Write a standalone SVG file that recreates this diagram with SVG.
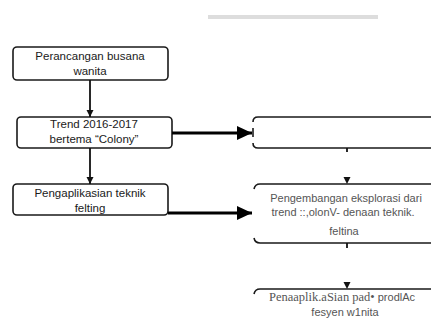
<svg xmlns="http://www.w3.org/2000/svg" width="431" height="322" viewBox="0 0 431 322">
<defs>
<style>
.box{fill:#fff;stroke:#1a1a1a;stroke-width:1.6}
.edge{fill:none;stroke:#1a1a1a;stroke-width:1.6}
.t{font-family:"Liberation Sans",Arial,sans-serif;font-size:11.5px;fill:#1a1a1a;text-anchor:middle}
.g{font-family:"Liberation Sans",Arial,sans-serif;font-size:11px;fill:#555;text-anchor:middle}
.ln{stroke:#111;stroke-width:1.8;fill:none}
.thick{stroke:#000;stroke-width:3;fill:none}
</style>
<marker id="sm" markerUnits="userSpaceOnUse" markerWidth="8" markerHeight="8" refX="7" refY="4" orient="auto"><path d="M0,0.5 L7,4 L0,7.5 Z" fill="#111"/></marker>
<marker id="big" markerUnits="userSpaceOnUse" markerWidth="16" markerHeight="16" refX="15" refY="8" orient="auto"><path d="M0,1 L15,8 L0,15 Z" fill="#000"/></marker>
</defs>
<rect x="208" y="15" width="170" height="4" fill="#ddd"/>
<g id="n1"><rect class="box" x="13" y="47" width="155" height="33" rx="4"/><text class="t" x="90" y="60">Perancangan busana</text><text class="t" x="90" y="75">wanita</text></g>
<g id="n2"><rect class="box" x="17" y="117" width="155" height="31" rx="4"/><text class="t" x="94" y="128">Trend 2016-2017</text><text class="t" x="94" y="143">bertema “Colony”</text></g>
<g id="n3"><rect class="box" x="13" y="184" width="155" height="31" rx="4"/><text class="t" x="90" y="197">Pengaplikasian teknik</text><text class="t" x="90" y="212">felting</text></g>
<g id="n4"><path class="edge" d="M431 117 H258 Q253 117 253 122"/><path class="edge" d="M253 143 Q253 148 258 148 H431"/><path class="edge" d="M253 128 V137"/></g>
<g id="n5"><path class="edge" d="M431 184 H260 Q255 184 254 189"/><path class="edge" d="M254 238 Q255 243 260 243 H431"/><text class="g" x="346" y="202">Pengembangan eksplorasi dari</text><text class="g" x="343" y="216">trend ::,olonV- denaan teknik.</text><text class="g" x="344" y="235">feltina</text></g>
<g id="n6"><path class="edge" d="M431 289 H260 Q255 289 254 294"/><text class="g" x="342" y="301"><tspan font-family="Liberation Serif,serif" font-size="12.5px">Penaaplik.aSian pad•</tspan> prodlAc</text><text class="g" x="345" y="316">fesyen w1nita</text></g>
<g id="connectors">
<line class="ln" x1="90" y1="80" x2="90" y2="117" marker-end="url(#sm)"/>
<line class="ln" x1="90" y1="148" x2="90" y2="184" marker-end="url(#sm)"/>
<line class="thick" x1="172" y1="133" x2="252" y2="133" marker-end="url(#big)"/>
<line class="thick" x1="168" y1="213" x2="252" y2="213" marker-end="url(#big)"/>
<line class="ln" x1="347" y1="148" x2="347" y2="184" stroke-dasharray="4 100" marker-end="url(#sm)"/>
<line class="ln" x1="347" y1="243" x2="347" y2="289" stroke-dasharray="5 100" marker-end="url(#sm)"/>
</g>
</svg>
